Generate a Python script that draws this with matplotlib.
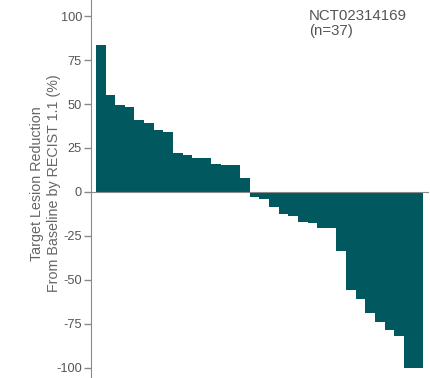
import matplotlib
matplotlib.use("Agg")
import matplotlib.pyplot as plt
import numpy as np

plt.rcParams['font.family'] = ['Liberation Sans', 'DejaVu Sans']

# best change from baseline (%), sorted, one value per patient shown
changes = [83.3, 55.3, 49.2, 48.3, 41.1, 39.4, 35.4, 34.3, 22.3, 21.0,
           19.5, 19.5, 16.1, 15.3, 15.3, 8.1,
           -3.0, -4.2, -8.7, -12.7, -13.6, -16.9, -17.8, -20.6, -20.6,
           -33.8, -55.7, -61.0, -68.9, -73.7, -78.6, -81.8, -100.0, -100.0]
y_ticks = [100, 75, 50, 25, 0, -25, -50, -75, -100]
study_label = "NCT02314169\n(n=37)"

bar_col = '#02585f'
axis_col = '#8a8a8a'
text_col = '#555555'

fig = plt.figure(figsize=(4.3, 3.78), dpi=100)
ax = fig.add_axes([91/430, 0, 337/430, 1])

x = np.arange(len(changes))
ax.bar(x, changes, width=1.0, color=bar_col, linewidth=0)

ax.set_xlim(-1.02, len(changes) + 0.02)
ax.set_ylim(-105.7, 109.1)
ax.set_yticks(y_ticks)
ax.set_yticklabels([str(t) for t in y_ticks])
ax.set_xticks([])

for s in ['top', 'right']:
    ax.spines[s].set_visible(False)
ax.spines['left'].set_color(axis_col)
ax.spines['bottom'].set_color(axis_col)
ax.spines['bottom'].set_position(('data', 0))
ax.tick_params(axis='y', colors=axis_col, labelcolor=text_col, labelsize=9.2, length=5, width=1, pad=1.5)

ax.set_ylabel("Target Lesion Reduction\nFrom Baseline by RECIST 1.1 (%)", fontsize=10.3,
              color='#666666', labelpad=0, linespacing=1.3)
ax.yaxis.set_label_coords(-30/337, 0.515)

fig.text(309/430, 1 - 9/378, study_label, ha='left', va='top', fontsize=10.8,
         color=text_col, linespacing=1.1)

fig.savefig("out.png", dpi=100)
